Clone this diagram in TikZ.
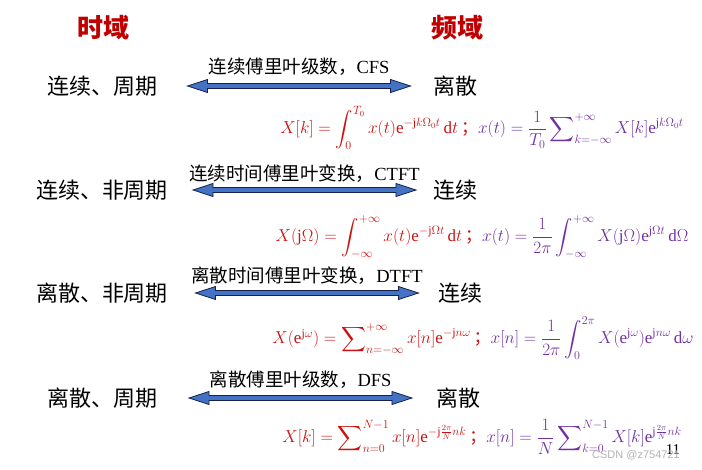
\documentclass[tikz,border=0pt]{standalone}
\usepackage{amsmath}
\usepackage{fontspec}
\setmainfont{Liberation Serif}
\newfontfamily\cjk{Noto Sans CJK SC}
\newfontfamily\wmfont{Liberation Sans}
\usetikzlibrary{positioning,shapes.arrows}
\definecolor{hdred}{RGB}{192,0,0}
\definecolor{fred}{RGB}{204,16,16}
\definecolor{fpurple}{RGB}{112,48,160}
\definecolor{arrblue}{RGB}{68,114,196}
\definecolor{arrnavy}{RGB}{22,32,72}

\begin{document}
\begin{tikzpicture}[x=1pt, y=-1pt,
    head/.style={font=\cjk\bfseries\fontsize{26}{28}\selectfont, text=hdred},
    dom/.style={font=\cjk\fontsize{22}{25}\selectfont, inner sep=1pt},
    trans/.style={font=\fontsize{18.5}{21}\selectfont, inner sep=1pt},
    fatarrow/.style={double arrow, draw=arrnavy, fill=arrblue, line width=0.8pt,
      minimum height=223pt, minimum width=13pt, inner sep=2pt, xshift=4pt,
      double arrow head extend=4pt, double arrow tip angle=36},
    formula/.style={font=\fontsize{17}{20}\selectfont, inner sep=0pt},
  ]
  \useasboundingbox (0,0) rectangle (702,469);

  \node[head] (td) at (103,28) {时域};
  \node[head] (fd) at (457,28) {频域};

  % continuous, periodic
  \node[dom] (t1) at (102,86) {连续、周期};
  \node[dom] (f1) at (455,86) {离散};
  \path (t1.east) -- node[fatarrow] (a1) {} (f1.west);
  \node[trans, above=6pt of a1] (n1) {{\cjk 连续傅里叶级数，}CFS};
  \node[formula] (e1) at (482,128) {\color{fred}$X[k]=\displaystyle\int_0^{T_0}x(t)\mathrm{e}^{-\mathrm{j}k\Omega_0 t}\,\mathrm{d}t\,${\cjk ；}\color{fpurple}$x(t)=\dfrac{1}{T_0}\displaystyle\sum\nolimits_{k=-\infty}^{+\infty}X[k]\mathrm{e}^{\mathrm{j}k\Omega_0 t}$};

  % continuous, aperiodic
  \node[dom] (t2) at (102,190) {连续、非周期};
  \node[dom] (f2) at (455,190) {连续};
  \path (t2.east) -- node[fatarrow] (a2) {} (f2.west);
  \node[trans, above=3pt of a2] (n2) {{\cjk 连续时间傅里叶变换，}CTFT};
  \node[formula] (e2) at (482,237) {\color{fred}$X(\mathrm{j}\Omega)=\displaystyle\int_{-\infty}^{+\infty}x(t)\mathrm{e}^{-\mathrm{j}\Omega t}\,\mathrm{d}t\,${\cjk ；}\color{fpurple}$x(t)=\dfrac{1}{2\pi}\displaystyle\int_{-\infty}^{+\infty}X(\mathrm{j}\Omega)\mathrm{e}^{\mathrm{j}\Omega t}\,\mathrm{d}\Omega$};

  % discrete, aperiodic
  \node[dom] (t3) at (102,293) {离散、非周期};
  \node[dom] (f3) at (460,293) {连续};
  \path (t3.east) -- node[fatarrow] (a3) {} (f3.west);
  \node[trans, above=4pt of a3] (n3) {{\cjk 离散时间傅里叶变换，}DTFT};
  \node[formula] (e3) at (483,338) {\color{fred}$X(\mathrm{e}^{\mathrm{j}\omega})=\displaystyle\sum\nolimits_{n=-\infty}^{+\infty}x[n]\mathrm{e}^{-\mathrm{j}n\omega}\,${\cjk ；}\color{fpurple}$x[n]=\dfrac{1}{2\pi}\displaystyle\int_0^{2\pi}X(\mathrm{e}^{\mathrm{j}\omega})\mathrm{e}^{\mathrm{j}n\omega}\,\mathrm{d}\omega$};

  % discrete, periodic
  \node[dom] (t4) at (102,398) {离散、周期};
  \node[dom] (f4) at (458,398) {离散};
  \path (t4.east) -- node[fatarrow] (a4) {} (f4.west);
  \node[trans, above=5pt of a4] (n4) {{\cjk 离散傅里叶级数，}DFS};
  \node[formula] (e4) at (482,437) {\color{fred}$X[k]=\displaystyle\sum\nolimits_{n=0}^{N-1}x[n]\mathrm{e}^{-\mathrm{j}\frac{2\pi}{N}nk}\,${\cjk ；}\color{fpurple}$x[n]=\dfrac{1}{N}\displaystyle\sum\nolimits_{k=0}^{N-1}X[k]\mathrm{e}^{\mathrm{j}\frac{2\pi}{N}nk}$};

  \node[font=\fontsize{15}{16}\selectfont] (pg) at (673,450) {11};
  \node[font=\wmfont\fontsize{11}{12}\selectfont, text=gray!60] (wm) at (636,455) {CSDN @z754721};
\end{tikzpicture}
\end{document}
